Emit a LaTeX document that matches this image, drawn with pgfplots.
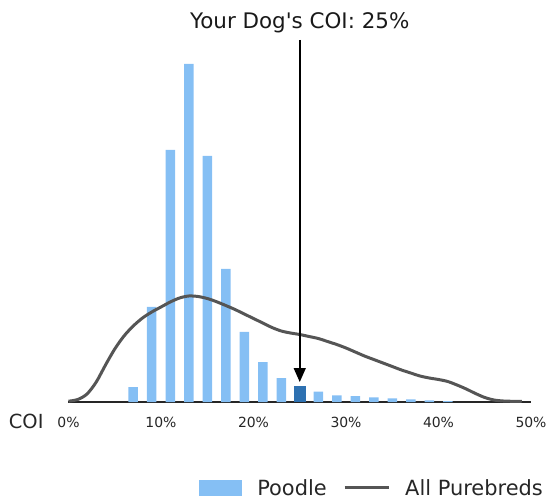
\documentclass[border=0pt]{standalone}
\usepackage{fontspec}
\setmainfont{DejaVu Sans}[Ligatures=TeXOff]
\usepackage{pgfplots}
\pgfplotsset{compat=1.18}
\usetikzlibrary{arrows.meta}
\definecolor{poodle}{RGB}{133,191,244}
\definecolor{mine}{RGB}{46,113,177}
\definecolor{allpb}{RGB}{85,85,85}

\begin{document}
\begin{tikzpicture}
\begin{axis}[
    name=ax,
    scale only axis, width=462.5bp, height=362bp,
    xmin=0, xmax=50, ymin=0, ymax=362,
    axis x line*=bottom, axis y line=none,
    x axis line style={line width=1.5bp, color=black!85},
    xtick={0,10,20,30,40,50},
    xticklabels={0\%,10\%,20\%,30\%,40\%,50\%},
    major tick length=0pt,
    xticklabel style={anchor=base, yshift=-25.3bp, font=\fontsize{14}{16}\selectfont, color=black!85},
    clip=false,
    legend columns=2,
    legend style={draw=none, fill=none, inner sep=0pt, outer sep=0pt,
        at={(axis cs:14.14,0)}, anchor=north west, yshift=-78bp,
        font=\fontsize{21}{25}\selectfont, text=black!85,
        nodes={inner sep=0pt},
        /tikz/every odd column/.append style={column sep=15bp},
        /tikz/every even column/.append style={column sep=16.5bp}},
]
% Poodle distribution (bar height in px above the baseline)
\addplot[ybar, bar width=9.5bp, bar shift=0pt, fill=poodle, draw=none,
    legend image code/.code={\fill[poodle] (0bp,-7bp) rectangle (43bp,8.3bp);}]
    coordinates {
(7,15) (9,95) (11,252) (13,338) (15,246) (17,133) (19,70) (21,40) (23,24)
(27,10.3) (29,6.7) (31,6) (33,4.7) (35,3.7) (37,2.7) (39,1.7) (41,1)
    };
\addlegendentry{Poodle}
% your dog
\addplot[forget plot, ybar, bar width=12bp, bar shift=0pt, fill=mine, draw=none]
    coordinates {(25,15.7)};
% all purebreds density
\addplot[smooth, color=allpb, line width=3bp,
    legend image code/.code={\draw[allpb, line width=3bp] (0bp,1.3bp) -- (44bp,1.3bp);}]
    coordinates {
(0,0.8) (1,2.5) (2,8) (3,20) (4,37) (5,53) (6,66) (7,76) (8,84) (9,90)
(10,95) (11,100) (12,104) (13,106) (14,105.5) (15,103.5) (16,100.3) (17,96.5)
(18,92.5) (19,88) (20,83.5) (21,79) (22,74.5) (23,71) (24,69) (25,67.5)
(26,65.5) (27,63.5) (28,60.5) (29,57.5) (30,54) (31,50) (32,46) (33,42.5)
(34,39) (35,35.5) (36,32) (37,29) (38,26) (39,24) (40,22.5) (41,20.5)
(42,17) (43,13) (44,8.5) (45,4.5) (46,2) (47,1) (48,0.7) (49,0.6)
    };
\addlegendentry{All Purebreds}

\draw[-{Triangle[length=14bp,width=12bp]}, line width=1.5bp, black]
    (axis cs:25,362) -- (axis cs:25,20);
\node[anchor=base, inner sep=0pt, font=\fontsize{21.5}{26}\selectfont, text=black!90]
    at (axis cs:25,362) [yshift=11.7bp] {Your Dog's COI: 25\%};
\node[anchor=base east, inner sep=0pt, font=\fontsize{19.5}{23}\selectfont, text=black!85]
    at (axis cs:0,0) [xshift=-24.8bp, yshift=-26bp] {COI};
\end{axis}
\pgfresetboundingbox
\path[use as bounding box] (ax.south west) ++(-68.5bp,-98bp) rectangle ++(548bp,500bp);
\end{tikzpicture}
\end{document}
